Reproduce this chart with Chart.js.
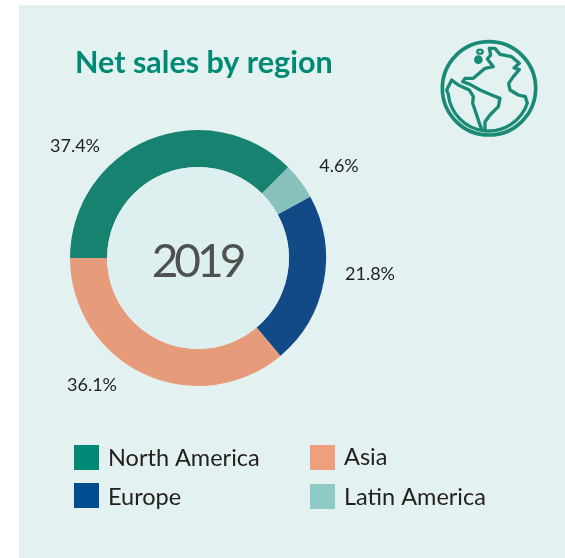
<!DOCTYPE html>
<html><head><meta charset="utf-8">
<style>
html,body{margin:0;padding:0;background:#fff;width:565px;height:558px;overflow:hidden}
#panel{position:absolute;left:19px;top:5px;width:546px;height:553px;background:#e3f1f0}
canvas{position:absolute;left:0;top:0}
#globe{position:absolute;left:430px;top:35px;width:115px;height:115px}
</style>
<script src="https://cdn.jsdelivr.net/npm/chart.js@4"></script>
</head><body>
<div id="panel"></div>
<canvas id="c" width="565" height="558"></canvas>
<svg id="globe" viewBox="0 0 345 345" fill="none" stroke="#1a8a76" stroke-width="10" stroke-linejoin="round" stroke-linecap="round">
<circle cx="177" cy="160" r="140" stroke-width="11"/>
<path d="M178 40 L195 40 L210 58 L245 65 L268 85 L252 99 L268 104 L250 125 L236 145 L240 165 L265 180 L286 185 L292 205 A122 122 0 0 1 55 178 L50 165 L65 135 L85 150 L118 165 L130 185 L128 205 L140 240 L150 270 L155 282"/>
<path d="M178 40 L182 60 L172 72 L190 95 L165 100 L130 130 L105 130 L98 140 L120 148 L150 165 L185 180 L210 190 L205 215 L180 240 L165 260 L165 282"/>
<ellipse cx="150" cy="50" rx="8" ry="6" stroke-width="7"/>
<circle cx="145" cy="74" r="8" fill="#1a8a76"/>
</svg>
<script>
const categories = ["North America","Latin America","Europe","Asia"];
const shares = [37.4,4.6,21.8,36.1];
const sliceColors = ["#17826f","#89c1bc","#124a87","#e69c7b"];
const legendOrder = ["North America","Asia","Europe","Latin America"];
const legendColors = ["#008975","#ee9f7c","#004c90","#8fcac6"];
const centerText = "2019";
const titleText = "Net sales by region";

const labelPlacement = [[75,146],[339,166],[370,274],[92,385]];
const legendPlacement = [[74,445,108,458],[310,445,344,457],[74,483,108,497],[310,484,344,497]];

const font = "Lato, 'Open Sans', sans-serif";
const decor = {
  id:"decor",
  afterDraw(chart){
    const {ctx} = chart;
    const arc = chart.getDatasetMeta(0).data[0];
    ctx.save();
    ctx.beginPath();
    ctx.arc(arc.x,arc.y,arc.innerRadius,0,Math.PI*2);
    ctx.fillStyle="#ddefee";
    ctx.fill();
    ctx.textAlign="left";ctx.textBaseline="alphabetic";
    ctx.fillStyle="#008975";
    ctx.font="bold 30.5px "+font;
    ctx.fillText(titleText,75,73);
    ctx.textAlign="center";ctx.textBaseline="middle";
    ctx.fillStyle="#4f5150";
    ctx.font="46px "+font;
    ctx.letterSpacing="-4px";
    ctx.fillText(centerText,arc.x-1,arc.y+4);
    ctx.letterSpacing="0px";
    ctx.fillStyle="#231f20";
    ctx.font="18px "+font;
    shares.forEach((v,i)=>{
      const p=labelPlacement[i];
      ctx.fillText(v.toFixed(1)+"%",p[0],p[1]);
    });
    ctx.textAlign="left";
    ctx.font="23.5px "+font;
    legendOrder.forEach((name,i)=>{
      const p=legendPlacement[i];
      ctx.fillStyle=legendColors[i];
      ctx.fillRect(p[0],p[1],25,25);
      ctx.fillStyle="#231f20";
      ctx.fillText(name,p[2],p[3]);
    });
    ctx.restore();
  }
};
new Chart(document.getElementById("c"),{
  type:"doughnut",
  data:{labels:categories,datasets:[{data:shares,backgroundColor:sliceColors,borderWidth:0}]},
  options:{
    responsive:false,animation:false,rotation:-90,cutout:"71%",
    layout:{padding:{left:70,right:239,top:130,bottom:172}},
    plugins:{legend:{display:false},tooltip:{enabled:false},title:{display:false}}
  },
  plugins:[decor]
});
</script>
</body></html>
